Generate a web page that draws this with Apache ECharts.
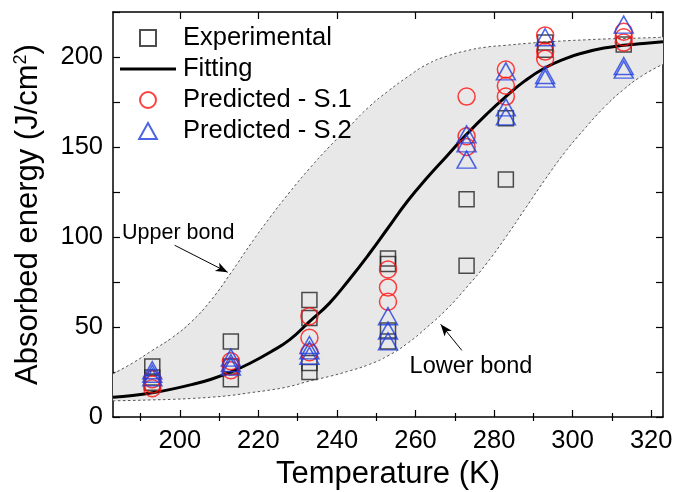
<!DOCTYPE html>
<html>
<head>
<meta charset="utf-8">
<script src="https://cdn.jsdelivr.net/npm/echarts@6/dist/echarts.min.js"></script>
<style>html,body{margin:0;padding:0;background:#fff}#c{width:675px;height:492px}</style>
</head>
<body>
<div id="c"></div>
<script>
// ---- data ----
const expTemp   = [193,193,193, 213,213,213, 233,233,233,233, 253,253,253,253, 273,273, 283,283, 293,293, 313];
const expEnergy = [28,22,19, 42,28,21, 65,55,30,25, 88,85,48,42, 121,84, 166,132, 208,204, 207];

const s1Temp   = [193,193,193, 213,213,213, 233,233,233, 253,253,253, 273,273,273, 283,283,283, 293,293,293, 313,313,313];
const s1Energy = [21,18,16, 31,28,26, 56,44,36, 82,72,64, 178,156,150, 193,184,178, 212,203,199, 214,211,208];

const s2Temp   = [193,193,193, 213,213,213, 233,233,233, 253,253,253, 273,273,273, 283,283,283, 293,293,293, 313,313,313];
const s2Energy = [26,24,22, 33,30,28, 40,37,34, 56,48,42, 157,152,143, 192,172,167, 211,190,188, 218,195,193];

const curveTemp = [183,188,193,198,203,208,213,218,223,228,233,238,243,248,253,258,263,268,273,278,283,288,293,298,303,308,313,318,323];
const fitEnergy = [11,12,13.5,15.5,18,21,25,30,36,43,53,63,76,90,105,120,133,145,157,168,178,187,194,199,202.5,205,206.5,207.5,208.5];
const upperEnergy = [24,30,37,44,53,65,80,96,111,125,138,150,161,172,181,189,196,200.5,203.5,205.5,206.5,207.5,208.3,209,209.5,210,210.3,210.6,211];
const lowerEnergy = [9,9.2,9.5,9.8,10.3,11,12,13.5,15,17,20,22.5,25.5,29,34,41,50,60,72,85,100,116,132,147,160,172,182,190,196];

const xTicks = [200,220,240,260,280,300,320];
const xMinorTicks = [190,210,230,250,270,290,310];
const yTicks = [0,50,100,150,200];
const legendNames = ['Experimental','Fitting','Predicted - S.1','Predicted - S.2'];

// ---- build ----
const zip = (a,b) => a.map((v,i)=>[v,b[i]]);
const FONT = 'Liberation Sans, Arial, sans-serif';
const BLACK = '#000';

const chart = echarts.init(document.getElementById('c'), null, {renderer:'canvas'});

function xAx(pos, ticks, len, opts) {
  return Object.assign({
    type:'value', min:183, max:323, position:pos,
    axisLine:{show:true,onZero:false,lineStyle:{color:BLACK,width:1.5}},
    axisTick:{show:true,inside:true,length:len,customValues:ticks,lineStyle:{color:BLACK,width:1.2}},
    axisLabel:{show:false}, splitLine:{show:false}
  }, opts||{});
}
function yAx(pos, opts) {
  return Object.assign({
    type:'value', min:0, max:225, interval:25, position:pos,
    axisLine:{show:true,onZero:false,lineStyle:{color:BLACK,width:1.5}},
    axisTick:{show:true,inside:true,length:7,lineStyle:{color:BLACK,width:1.2}},
    axisLabel:{show:false}, splitLine:{show:false}
  }, opts||{});
}

chart.setOption({
  animation:false,
  backgroundColor:'#fff',
  grid:{left:113,right:12,top:12,bottom:75,outerBoundsMode:'none',containLabel:false},
  legend:{
    orient:'vertical', left:115, top:20,
    itemWidth:56, itemHeight:16, itemGap:5,
    symbolKeepAspect:true,
    data:[
      {name:legendNames[0],icon:'path://M0,0L10,0L10,10L0,10Z'},
      {name:legendNames[1],icon:'path://M0,0L56,0L56,3L0,3Z'},
      {name:legendNames[2],icon:'circle'},
      {name:legendNames[3],icon:'path://M5,0L10,9L0,9Z'}
    ],
    textStyle:{fontFamily:FONT,fontSize:25.5,color:BLACK,lineHeight:25,padding:[0,0,0,2]}
  },
  xAxis:[
    xAx('bottom', xTicks, 7, {
      name:'Temperature (K)',nameLocation:'middle',nameGap:38,
      nameTextStyle:{fontFamily:FONT,fontSize:31,color:BLACK},
      axisLabel:{show:true,fontFamily:FONT,fontSize:25.5,color:BLACK,margin:11,customValues:xTicks}
    }),
    xAx('top', xTicks, 7),
    xAx('bottom', xMinorTicks, 4, {axisLine:{show:false}}),
    xAx('top', xMinorTicks, 4, {axisLine:{show:false}})
  ],
  yAxis:[
    yAx('left', {
      name:'{a|Absorbed energy (J/cm}{s|2}{a|)}',nameLocation:'middle',nameGap:69,
      nameTextStyle:{rich:{a:{fontFamily:FONT,fontSize:31,color:BLACK},s:{fontFamily:FONT,fontSize:18,color:BLACK,verticalAlign:'top',padding:[0,0,14,0]}}},
      axisLabel:{show:true,fontFamily:FONT,fontSize:25.5,color:BLACK,margin:10,customValues:yTicks}
    }),
    yAx('right')
  ],
  series:[
    {name:'band',type:'custom',silent:true,z:1,clip:true,
     data:[[curveTemp[0],upperEnergy[0]]],
     renderItem:function(params, api){
       const pts = [];
       for (let i=0;i<curveTemp.length;i++) pts.push(api.coord([curveTemp[i],upperEnergy[i]]));
       for (let i=curveTemp.length-1;i>=0;i--) pts.push(api.coord([curveTemp[i],lowerEnergy[i]]));
       return {type:'polygon',shape:{points:pts},style:{fill:'#e8e8e8',stroke:null}};
     }},
    {name:'Upper bound',type:'line',data:zip(curveTemp,upperEnergy),smooth:true,symbol:'none',
     lineStyle:{color:'#555',width:1,type:[2.5,2.5]},z:2,
     markPoint:{symbol:'circle',symbolSize:0.01,silent:true,
       data:[{coord:[185.3,102],label:{show:true,position:'right',distance:0,formatter:'Upper bond',fontFamily:FONT,fontSize:21.5,color:BLACK}}]},
     markLine:{silent:true,symbol:['none','arrow'],symbolSize:[7,12],label:{show:false},
       lineStyle:{color:BLACK,width:1,type:'solid'},
       data:[[{coord:[198.7,95.4]},{coord:[212.2,80.4]}]]}},
    {name:'Lower bound',type:'line',data:zip(curveTemp,lowerEnergy),smooth:true,symbol:'none',
     lineStyle:{color:'#555',width:1,type:[2.5,2.5]},z:2,
     markPoint:{symbol:'circle',symbolSize:0.01,silent:true,
       data:[{coord:[258.5,28.2],label:{show:true,position:'right',distance:0,formatter:'Lower bond',fontFamily:FONT,fontSize:23.5,color:BLACK}}]},
     markLine:{silent:true,symbol:['none','arrow'],symbolSize:[7,12],label:{show:false},
       lineStyle:{color:BLACK,width:1,type:'solid'},
       data:[[{coord:[271.8,37]},{coord:[266.4,51.5]}]]}},
    {name:'Fitting',type:'line',data:zip(curveTemp,fitEnergy),smooth:true,symbol:'none',
     lineStyle:{color:BLACK,width:3},itemStyle:{color:BLACK},z:3},
    {name:'Experimental',type:'scatter',data:zip(expTemp,expEnergy),symbol:'rect',symbolSize:15,
     itemStyle:{color:'rgba(0,0,0,0)',borderColor:'#222',borderWidth:1.5},z:4},
    {name:'Predicted - S.1',type:'scatter',data:zip(s1Temp,s1Energy),symbol:'circle',symbolSize:17,
     itemStyle:{color:'rgba(0,0,0,0)',borderColor:'#ff1010',borderWidth:1.5},z:5},
    {name:'Predicted - S.2',type:'scatter',data:zip(s2Temp,s2Energy),symbol:'triangle',symbolSize:[19,17],
     itemStyle:{color:'rgba(0,0,0,0)',borderColor:'#1f3fe0',borderWidth:1.5},z:6}
  ]
});
</script>
</body>
</html>
